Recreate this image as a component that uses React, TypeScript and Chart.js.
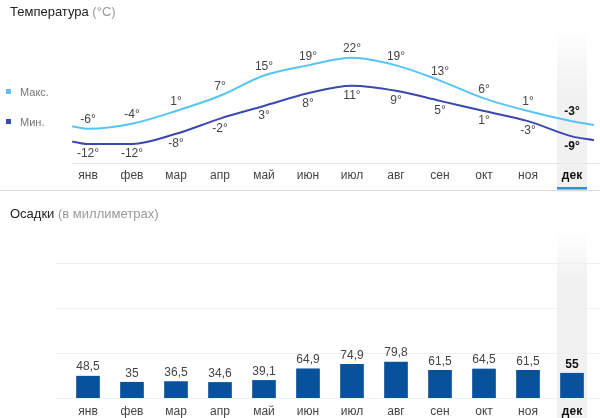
import React, { useEffect, useRef } from "react";
import { Chart, registerables } from "chart.js";

Chart.register(...registerables);

const months = ["янв", "фев", "мар", "апр", "май", "июн", "июл", "авг", "сен", "окт", "ноя", "дек"];
const tempMax = [-6, -4, 1, 7, 15, 19, 22, 19, 13, 6, 1, -3];
const tempMin = [-12, -12, -8, -2, 3, 8, 11, 9, 5, 1, -3, -9];
// the lines continue a little past the first and last month
const edgeX = [-0.36, 11.5];
const edgeMax = [-5, -4.5];
const edgeMin = [-11, -10.5];
const precip = [48.5, 35, 36.5, 34.6, 39.1, 64.9, 74.9, 79.8, 61.5, 64.5, 61.5, 55];
const precipGrid = [0, 100, 200, 300];
const selected = 11;

const FONT = "'Liberation Sans', Arial, sans-serif";
const MAX_C = "#56c5f6";
const MIN_C = "#3a48b0";
const BAR_C = "#07529b";

const highlightPlugin = {
  id: "highlight",
  beforeDraw(chart: any, _a: any, opts: any) {
    const { ctx } = chart;
    const x = chart.scales.x.getPixelForValue(selected);
    const w = 30;
    ctx.save();
    const g = ctx.createLinearGradient(0, opts.top, 0, opts.solid);
    g.addColorStop(0, "rgba(241,241,241,0)");
    g.addColorStop(1, "rgba(241,241,241,1)");
    ctx.fillStyle = g;
    ctx.fillRect(x - w / 2, opts.top, w, opts.solid - opts.top);
    ctx.fillStyle = "#f1f1f1";
    ctx.fillRect(x - w / 2, opts.solid, w, chart.height - opts.solid);
    if (opts.underline) {
      ctx.fillStyle = "#2f8fe6";
      ctx.fillRect(x - w / 2, opts.underline, w, 2.5);
    }
    if (opts.separator) {
      ctx.fillStyle = "#dcdcdc";
      ctx.fillRect(0, opts.separator, chart.width, 1);
    }
    ctx.restore();
  },
};

const gridPlugin = {
  id: "hgrid",
  beforeDatasetsDraw(chart: any, _a: any, opts: any) {
    const { ctx } = chart;
    ctx.save();
    ctx.strokeStyle = opts.color;
    ctx.lineWidth = 1;
    const scale = chart.scales[opts.axis];
    opts.values.forEach((v: number) => {
      const y = Math.round(scale.getPixelForValue(v)) + 0.5;
      ctx.beginPath();
      ctx.moveTo(opts.from, y);
      ctx.lineTo(chart.width, y);
      ctx.stroke();
    });
    ctx.restore();
  },
};

const labelPlugin = {
  id: "valueLabels",
  afterDatasetsDraw(chart: any, _a: any, opts: any) {
    const { ctx } = chart;
    ctx.save();
    ctx.textAlign = "center";
    ctx.textBaseline = "middle";
    chart.data.datasets.forEach((ds: any, di: number) => {
      const meta = chart.getDatasetMeta(di);
      const off = opts.offsets[di];
      ds.data.forEach((d: any, k: number) => {
        const idx = typeof d === "object" ? d.m : k;
        if (idx === undefined) return;
        const v = typeof d === "object" ? d.y : d;
        const el = meta.data[k];
        const bold = idx === selected;
        ctx.font = `${bold ? "bold " : ""}12px ${FONT}`;
        ctx.fillStyle = bold ? "#111" : "#444";
        ctx.fillText(opts.format(v), el.x, el.y + off);
      });
    });
    ctx.restore();
  },
};

const tickFont = (c: any) => ({ family: FONT, size: 12, weight: c.index === selected ? "bold" : "normal" });
const tickColor = (c: any) => (c.index === selected ? "#111" : "#444");

function toPts(vals: number[], edges: number[]) {
  return [
    { x: edgeX[0], y: edges[0] },
    ...vals.map((v, i) => ({ x: i, y: v, m: i })),
    { x: edgeX[1], y: edges[1] },
  ];
}

export default function App() {
  const topRef = useRef<HTMLCanvasElement>(null);
  const botRef = useRef<HTMLCanvasElement>(null);

  useEffect(() => {
    const top = new Chart(topRef.current as HTMLCanvasElement, {
      type: "line",
      data: {
        datasets: [
          { label: "Макс.", data: toPts(tempMax, edgeMax), borderColor: MAX_C, borderWidth: 2, pointRadius: 0, cubicInterpolationMode: "monotone", fill: false },
          { label: "Мин.", data: toPts(tempMin, edgeMin), borderColor: MIN_C, borderWidth: 2, pointRadius: 0, cubicInterpolationMode: "monotone", fill: false },
        ] as any,
      },
      options: {
        animation: false,
        responsive: false,
        layout: { padding: { left: 66, right: 6, top: 40, bottom: 0 } },
        scales: {
          x: {
            type: "linear",
            min: -0.5,
            max: 11.5,
            afterBuildTicks: (s: any) => {
              s.ticks = months.map((_, i) => ({ value: i }));
            },
            afterFit: (s: any) => {
              s.height = 29;
            },
            ticks: { callback: (v: any) => months[v], padding: -3, font: tickFont as any, color: tickColor as any, autoSkip: false, maxRotation: 0 },
            grid: { display: false },
            border: { display: false },
          },
          y: { display: false, min: -19.5, max: 29 },
        },
        plugins: {
          legend: { display: false },
          tooltip: { enabled: false },
          highlight: { top: 28, solid: 95, underline: 187, separator: 190 },
          hgrid: { axis: "y", values: [-19.5], from: 72, color: "#e6e6e6" },
          valueLabels: { offsets: [-9, 10], format: (v: number) => `${v}°` },
        } as any,
      },
      plugins: [highlightPlugin, gridPlugin, labelPlugin],
    });

    const bot = new Chart(botRef.current as HTMLCanvasElement, {
      type: "bar",
      data: {
        labels: months,
        datasets: [{ data: precip, backgroundColor: BAR_C, barThickness: 23 }],
      },
      options: {
        animation: false,
        responsive: false,
        layout: { padding: { left: 66, right: 6, top: 68, bottom: 0 } },
        scales: {
          x: {
            afterFit: (s: any) => {
              s.height = 20;
            },
            ticks: { padding: -2, font: tickFont as any, color: tickColor as any, autoSkip: false, maxRotation: 0 },
            grid: { display: false },
            border: { display: false },
          },
          y: { display: false, min: 0, max: 300 },
        },
        plugins: {
          legend: { display: false },
          tooltip: { enabled: false },
          highlight: { top: 37, solid: 85 },
          hgrid: { axis: "y", values: precipGrid, from: 56, color: "#efefef" },
          valueLabels: { offsets: [-9], format: (v: number) => String(v).replace(".", ",") },
        } as any,
      },
      plugins: [highlightPlugin, gridPlugin, labelPlugin],
    });

    return () => {
      top.destroy();
      bot.destroy();
    };
  }, []);

  const abs: React.CSSProperties = { position: "absolute" };
  return (
    <div style={{ position: "fixed", left: 0, top: 0, width: 600, height: 418, background: "#fff", fontFamily: FONT, overflow: "hidden" }}>
      <canvas ref={topRef} width={600} height={192} style={{ ...abs, left: 0, top: 0 }} />
      <canvas ref={botRef} width={600} height={223} style={{ ...abs, left: 0, top: 195 }} />
      <div style={{ ...abs, left: 10, top: 3, fontSize: 13, lineHeight: "18px", color: "#222", whiteSpace: "nowrap" }}>
        Температура <span style={{ color: "#9a9a9a" }}>(°C)</span>
      </div>
      <div style={{ ...abs, left: 10, top: 205, fontSize: 13, lineHeight: "18px", color: "#222", whiteSpace: "nowrap" }}>
        Осадки <span style={{ color: "#9a9a9a" }}>(в миллиметрах)</span>
      </div>
      <div style={{ ...abs, left: 6, top: 89, width: 5, height: 5, background: MAX_C }} />
      <div style={{ ...abs, left: 20, top: 84, fontSize: 11, lineHeight: "16px", color: "#777" }}>Макс.</div>
      <div style={{ ...abs, left: 6, top: 119, width: 5, height: 5, background: MIN_C }} />
      <div style={{ ...abs, left: 20, top: 114, fontSize: 11, lineHeight: "16px", color: "#777" }}>Мин.</div>
    </div>
  );
}
